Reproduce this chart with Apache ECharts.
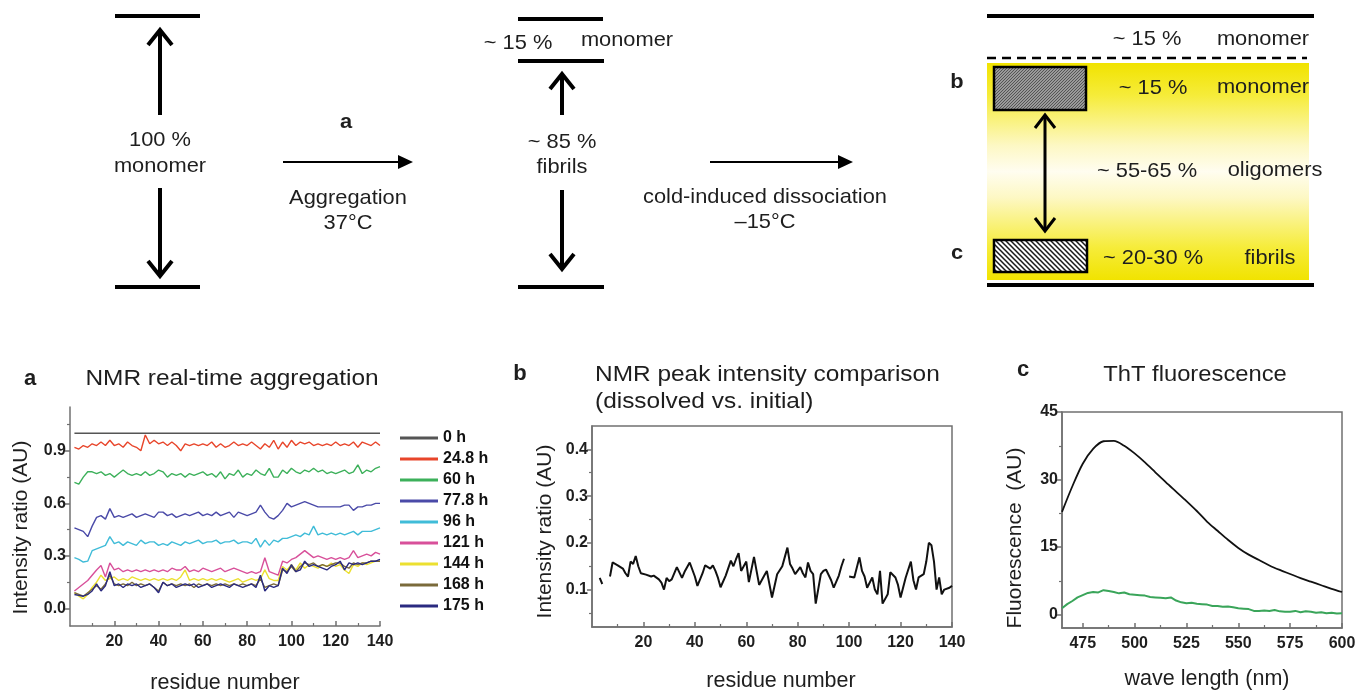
<!DOCTYPE html>
<html><head><meta charset="utf-8">
<script src="https://cdn.jsdelivr.net/npm/echarts@6/dist/echarts.min.js"></script>
<style>html,body{margin:0;padding:0;background:#fff}#c{width:1358px;height:690px}</style>
</head><body><div id="c"></div>
<script>
// ---------- Panel a: NMR real-time aggregation ----------
const residues = [2,4,6,8,10,12,14,16,18,20,22,24,26,28,30,32,34,36,38,40,42,44,46,48,50,52,54,56,58,60,62,64,66,68,70,72,74,76,78,80,82,84,86,88,90,92,94,96,98,100,102,104,106,108,110,112,114,116,118,120,122,124,126,128,130,132,134,136,138,140];
const h0Res = [2,140];
const h0Val = [1.0,1.0];
const h24_8 = [0.92,0.91,0.93,0.92,0.94,0.93,0.95,0.93,0.96,0.93,
 0.94,0.92,0.95,0.93,0.92,0.90,0.99,0.94,0.96,0.94,
 0.95,0.93,0.95,0.93,0.90,0.94,0.93,0.94,0.93,0.94,
 0.93,0.95,0.92,0.94,0.92,0.93,0.95,0.93,0.94,0.93,
 0.95,0.93,0.91,0.94,0.92,0.96,0.91,0.95,0.92,0.96,
 0.93,0.95,0.94,0.95,0.93,0.94,0.93,0.94,0.93,0.95,
 0.93,0.94,0.93,0.95,0.92,0.95,0.94,0.93,0.95,0.93];
const h60 = [0.72,0.71,0.75,0.78,0.78,0.77,0.78,0.76,0.77,0.75,
 0.77,0.79,0.77,0.76,0.77,0.76,0.78,0.76,0.77,0.79,
 0.78,0.75,0.77,0.76,0.77,0.75,0.77,0.76,0.77,0.78,
 0.76,0.77,0.75,0.78,0.74,0.77,0.76,0.79,0.75,0.77,
 0.76,0.79,0.77,0.76,0.80,0.75,0.75,0.79,0.77,0.80,
 0.78,0.77,0.79,0.78,0.80,0.78,0.79,0.77,0.78,0.77,
 0.78,0.79,0.77,0.78,0.82,0.77,0.79,0.78,0.80,0.81];
const h77_8 = [0.46,0.45,0.44,0.41,0.47,0.52,0.53,0.51,0.57,0.52,
 0.53,0.52,0.53,0.54,0.52,0.53,0.54,0.53,0.52,0.55,
 0.55,0.53,0.54,0.52,0.53,0.54,0.53,0.54,0.55,0.53,
 0.54,0.53,0.55,0.53,0.54,0.55,0.52,0.55,0.54,0.53,
 0.54,0.55,0.59,0.55,0.52,0.51,0.53,0.56,0.60,0.58,
 0.59,0.60,0.61,0.60,0.59,0.58,0.58,0.58,0.58,0.58,
 0.58,0.59,0.59,0.56,0.58,0.58,0.59,0.59,0.60,0.60];
const h96 = [0.29,0.28,0.265,0.27,0.33,0.34,0.35,0.36,0.41,0.37,
 0.38,0.36,0.38,0.37,0.36,0.39,0.37,0.38,0.38,0.36,
 0.37,0.36,0.38,0.37,0.36,0.38,0.37,0.38,0.39,0.37,
 0.38,0.38,0.39,0.37,0.38,0.38,0.39,0.37,0.38,0.38,
 0.37,0.40,0.35,0.39,0.36,0.39,0.38,0.40,0.40,0.41,
 0.42,0.41,0.43,0.42,0.47,0.42,0.43,0.42,0.43,0.42,
 0.43,0.42,0.43,0.44,0.42,0.44,0.44,0.44,0.45,0.46];
const h121 = [0.10,0.12,0.14,0.16,0.19,0.22,0.245,0.18,0.26,0.22,
 0.23,0.21,0.22,0.21,0.22,0.21,0.22,0.21,0.22,0.21,
 0.22,0.21,0.23,0.22,0.22,0.24,0.21,0.22,0.21,0.23,
 0.22,0.21,0.22,0.23,0.21,0.22,0.23,0.22,0.21,0.20,
 0.21,0.20,0.21,0.29,0.21,0.20,0.19,0.27,0.26,0.28,
 0.29,0.31,0.33,0.31,0.29,0.30,0.29,0.28,0.29,0.28,
 0.29,0.28,0.29,0.33,0.29,0.30,0.31,0.30,0.32,0.31];
const h144 = [0.09,0.07,0.055,0.08,0.12,0.15,0.19,0.16,0.17,0.18,
 0.16,0.17,0.16,0.18,0.17,0.16,0.17,0.16,0.17,0.16,
 0.17,0.16,0.17,0.16,0.18,0.22,0.16,0.17,0.16,0.17,
 0.16,0.17,0.16,0.17,0.16,0.15,0.16,0.17,0.15,0.16,
 0.17,0.16,0.17,0.22,0.17,0.16,0.16,0.24,0.22,0.25,
 0.22,0.26,0.23,0.25,0.24,0.23,0.25,0.24,0.26,0.24,
 0.25,0.22,0.20,0.25,0.24,0.26,0.25,0.26,0.27,0.27];
const h168 = [0.09,0.08,0.07,0.09,0.11,0.13,0.11,0.14,0.19,0.14,
 0.13,0.14,0.13,0.15,0.13,0.14,0.13,0.14,0.12,0.10,
 0.15,0.13,0.14,0.13,0.14,0.13,0.14,0.12,0.14,0.13,
 0.14,0.13,0.14,0.13,0.14,0.13,0.14,0.13,0.14,0.13,
 0.14,0.13,0.17,0.12,0.13,0.14,0.13,0.22,0.21,0.24,
 0.21,0.24,0.26,0.25,0.26,0.24,0.25,0.24,0.25,0.26,
 0.26,0.24,0.23,0.26,0.25,0.26,0.26,0.27,0.27,0.27];
const h175 = [0.08,0.075,0.07,0.08,0.10,0.14,0.10,0.13,0.21,0.13,
 0.14,0.12,0.14,0.13,0.14,0.12,0.13,0.14,0.12,0.09,
 0.15,0.13,0.14,0.12,0.13,0.14,0.13,0.14,0.12,0.13,
 0.14,0.12,0.13,0.14,0.13,0.12,0.14,0.13,0.12,0.13,
 0.14,0.12,0.19,0.10,0.13,0.12,0.13,0.23,0.20,0.25,
 0.21,0.22,0.27,0.24,0.25,0.24,0.23,0.22,0.24,0.25,
 0.27,0.22,0.26,0.25,0.26,0.25,0.26,0.27,0.27,0.28];
const aNames = ['0 h','24.8 h','60 h','77.8 h','96 h','121 h','144 h','168 h','175 h'];
const aColors = ['#555555','#e8452a','#3cb05a','#4a4aa8','#40bcd8','#d8509a','#ece030','#7a6a3a','#2a2a80'];
const aYLabels = [0,0.3,0.6,0.9];
const aYMinor = [0.15,0.45,0.75,1.05];
const aXLabels = [20,40,60,80,100,120,140];
const aXMinor = [10,30,50,70,90,110,130];

// ---------- Panel b: NMR peak intensity comparison ----------
const bRes = [3,4,5,7,8,10,12,13,14,15,16,17,18,19,21,23,24,26,27,28,29,30,31,33,35,36,38,40,41,43,44,46,47,48,49,50,52,54,55,56,57,58,60,61,63,64,65,67,68,70,72,74,75,76,77,78,79,81,82,83,84,85,86,87,89,90,91,93,94,96,97,98,99,100,102,104,105,106,107,109,110,111,112,113,115,116,118,119,120,122,124,125,126,127,129,130,131,132,133,134,135,136,137,139,140];
const bVal = [0.125,0.112,null,0.128,0.158,0.152,0.145,0.135,0.128,0.16,
 0.155,0.172,0.15,0.135,0.132,0.128,0.13,0.122,0.115,0.1,
 0.125,0.118,0.122,0.148,0.125,0.138,0.158,0.128,0.108,0.135,
 0.152,0.145,0.152,0.14,0.125,0.105,0.13,0.162,0.15,0.165,
 0.178,0.14,0.16,0.116,0.17,0.14,0.11,0.13,0.14,0.083,
 0.133,0.15,0.17,0.19,0.155,0.145,0.133,0.148,0.135,0.126,
 0.158,0.14,0.133,0.07,0.133,0.14,0.143,0.12,0.104,0.13,
 0.15,0.166,null,0.128,0.126,0.169,0.14,0.128,0.104,0.126,
 0.1,0.09,0.14,0.07,0.09,0.137,0.126,0.11,0.083,0.126,
 0.16,0.12,0.1,0.126,0.133,0.16,0.2,0.195,0.16,0.1,
 0.126,0.09,0.1,0.104,0.108];
const bYLabels = [0.1,0.2,0.3,0.4];
const bYMinor = [0.05,0.15,0.25,0.35];
const bXLabels = [20,40,60,80,100,120,140];
const bXMinor = [10,30,50,70,90,110,130];

// ---------- Panel c: ThT fluorescence ----------
const cWave = [465,470,475,480,485,490,495,500,505,510,515,520,525,530,535,540,545,550,555,560,565,570,575,580,585,590,595,600];
const cFibril = [22.8,28.5,33.5,36.8,38.5,38.6,37.5,35.8,33.8,31.6,29.4,27.3,25.2,23.0,20.6,18.6,16.6,14.8,13.3,12.1,10.9,9.9,9.0,8.1,7.3,6.5,5.7,5.0];
const cWave2 = [465,467.5,470,472.5,475,477.5,480,482.5,485,487.5,490,492.5,495,497.5,500,502.5,505,507.5,510,512.5,515,517.5,520,522.5,525,527.5,530,532.5,535,537.5,540,542.5,545,547.5,550,552.5,555,557.5,560,562.5,565,567.5,570,572.5,575,577.5,580,582.5,585,587.5,590,592.5,595,597.5,600];
const cDissolved = [1.4,2.3,3.0,3.8,4.3,4.8,5.0,4.9,5.4,5.2,
 5.0,4.7,4.9,4.5,4.4,4.3,4.2,3.9,3.8,3.7,
 3.6,3.8,3.1,2.7,2.5,2.6,2.4,2.3,2.2,1.9,
 1.9,1.7,1.8,1.6,1.4,1.3,1.2,0.8,0.8,0.9,
 0.8,1.0,0.7,0.6,0.6,0.8,0.5,0.7,0.6,0.4,
 0.5,0.3,0.4,0.2,0.3];
const cYLabels = [0,15,30,45];
const cYMinor = [7.5,22.5,37.5];
const cXLabels = [475,500,525,550,575,600];
const cXMinor = [487.5,512.5,537.5,562.5,587.5];

// ---------- helpers ----------
const FONT = "'Liberation Sans', Arial, Helvetica, sans-serif";
const AX = '#707070';
const TXT = '#1e1e1e';
function pairs(xs, ys){ return xs.map((x,i)=>[x, ys[i]]); }
function txt(x,y,s,size,o){ o=o||{}; return {type:'text', x:x, y:y, z:20, scaleX:o.sx||1,
  style:{text:s, fontSize:size, fontFamily:FONT, fontWeight:o.bold?'bold':'normal', fill:o.color||TXT,
    align:o.align||'center', verticalAlign:'middle', textAlign:o.align||'center', textVerticalAlign:'middle'}}; }
function st(x,y,s,o){ o=o||{}; o.sx=o.sx||1.04; return txt(x,y,s,21,o); }   // schematic text
function tt(x,y,s,o){ o=o||{}; o.sx=o.sx||1.11; return txt(x,y,s,22,o); }   // panel titles
function ln(x1,y1,x2,y2,w,dash){ return {type:'line', z:15, shape:{x1:x1,y1:y1,x2:x2,y2:y2}, style:{stroke:'#000', lineWidth:w, lineDash:dash||null}}; }
function chev(pts,w){ return {type:'polyline', z:15, shape:{points:pts}, style:{stroke:'#000', lineWidth:w, fill:null, lineJoin:'miter'}}; }
function tri(pts){ return {type:'polygon', z:15, shape:{points:pts}, style:{fill:'#000'}}; }

function dotPattern(){ const c=document.createElement('canvas'); c.width=3; c.height=3; const g=c.getContext('2d');
  g.fillStyle='#9a9a9a'; g.fillRect(0,0,3,3); g.fillStyle='#555'; g.fillRect(0,0,1,1); g.fillRect(1,2,1,1); g.fillRect(2,1,1,1); return c; }
function hatchPattern(){ const c=document.createElement('canvas'); c.width=5; c.height=5; const g=c.getContext('2d');
  g.fillStyle='#ffffff'; g.fillRect(0,0,5,5); g.strokeStyle='#1a1a1a'; g.lineWidth=1.5; g.beginPath();
  g.moveTo(-1,-1); g.lineTo(6,6); g.moveTo(-1,4); g.lineTo(1,6); g.moveTo(4,-1); g.lineTo(6,1); g.stroke(); return c; }

// ---------- axes ----------
function mainX(grid,min,max,labels,fmt){ return {gridIndex:grid, type:'value', min:min, max:max, position:'bottom',
  axisLine:{show:true,onZero:false,lineStyle:{color:AX,width:1.5}},
  axisTick:{show:true,inside:true,length:5,customValues:labels,lineStyle:{color:AX,width:1.5}},
  axisLabel:{customValues:labels, formatter:fmt||(v=>String(v)), margin:8, color:TXT, fontWeight:'bold', fontSize:16, fontFamily:FONT},
  splitLine:{show:false}}; }
function minorX(grid,min,max,vals){ return {gridIndex:grid, type:'value', min:min, max:max, position:'bottom',
  axisLine:{show:false,onZero:false}, axisTick:{show:true,inside:true,length:3,customValues:vals,lineStyle:{color:AX,width:1.2}},
  axisLabel:{show:false}, splitLine:{show:false}}; }
function mainY(grid,min,max,labels,fmt){ return {gridIndex:grid, type:'value', min:min, max:max, position:'left',
  axisLine:{show:true,onZero:false,lineStyle:{color:AX,width:1.5}},
  axisTick:{show:true,inside:false,length:5,customValues:labels,lineStyle:{color:AX,width:1.5}},
  axisLabel:{customValues:labels, formatter:fmt||(v=>String(v)), margin:4, color:TXT, fontWeight:'bold', fontSize:16, fontFamily:FONT},
  splitLine:{show:false}}; }
function minorY(grid,min,max,vals){ return {gridIndex:grid, type:'value', min:min, max:max, position:'left',
  axisLine:{show:false,onZero:false}, axisTick:{show:true,inside:false,length:3,customValues:vals,lineStyle:{color:AX,width:1.2}},
  axisLabel:{show:false}, splitLine:{show:false}}; }
function named(ax,name,gap,rot,size,pad){ ax.name=name; ax.nameLocation='middle'; ax.nameGap=gap; if(rot) ax.nameRotate=rot;
  ax.nameTextStyle={fontSize:size||21, color:TXT, fontFamily:FONT, padding:pad||0}; return ax; }

const xAxes = [
  named(mainX(0,0,140,aXLabels),'residue number',46,0,21.5), minorX(0,0,140,aXMinor),
  named(mainX(1,0,140,bXLabels),'residue number',43,0,21.5,[0,0,0,18]), minorX(1,0,140,bXMinor),
  named(mainX(2,465,600,cXLabels),'wave length (nm)',40,0,21.5,[0,0,0,10]), minorX(2,465,600,cXMinor)
];
const yAxes = [
  named(mainY(0,-0.1,1.15,aYLabels,v=>v.toFixed(1)),'Intensity ratio (AU)',38,90,21,[0,22,0,0]), minorY(0,-0.1,1.15,aYMinor),
  named(mainY(1,0.02,0.45,bYLabels,v=>v.toFixed(1)),'Intensity ratio (AU)',36,90,21,[0,10,0,0]), minorY(1,0.02,0.45,bYMinor),
  named(mainY(2,-3,45,cYLabels),'Fluorescence  (AU)',36,90,21,[0,36,0,0]), minorY(2,-3,45,cYMinor)
];

// ---------- series ----------
const aData = [pairs(h0Res,h0Val), pairs(residues,h24_8), pairs(residues,h60), pairs(residues,h77_8), pairs(residues,h96),
  pairs(residues,h121), pairs(residues,h144), pairs(residues,h168), pairs(residues,h175)];
const series = aData.map((d,i)=>({name:aNames[i], type:'line', xAxisIndex:0, yAxisIndex:0, data:d, symbol:'none',
  lineStyle:{color:aColors[i], width:1.4}, itemStyle:{color:aColors[i]}, z:2+i}));
series.push({name:'dissolved vs. initial', type:'line', xAxisIndex:2, yAxisIndex:2, data:pairs(bRes,bVal), symbol:'none',
  connectNulls:false, lineStyle:{color:'#111',width:2}, itemStyle:{color:'#111'}});
series.push({name:'fibrils', type:'line', xAxisIndex:4, yAxisIndex:4, data:pairs(cWave,cFibril), symbol:'none', smooth:0.3,
  lineStyle:{color:'#111',width:1.8}, itemStyle:{color:'#111'}});
series.push({name:'dissolved', type:'line', xAxisIndex:4, yAxisIndex:4, data:pairs(cWave2,cDissolved), symbol:'none',
  lineStyle:{color:'#3aa55a',width:2}, itemStyle:{color:'#3aa55a'}});

// ---------- schematic (top) ----------
const dot = dotPattern(), hatch = hatchPattern();
const schematic = [
  {type:'rect', z:5, shape:{x:987,y:63,width:322,height:217}, style:{fill:new echarts.graphic.LinearGradient(0,0,0,1,[
    {offset:0,color:'#f1e300'},{offset:0.15,color:'#f6ec3a'},{offset:0.38,color:'#fdf8c4'},{offset:0.5,color:'#fffdf0'},
    {offset:0.62,color:'#fdf8c4'},{offset:0.85,color:'#f6ec3a'},{offset:1,color:'#f1e300'}])}},
  // left column
  ln(115,16,200,16,4), ln(160,31,160,115,4), chev([[148,45],[160,30],[172,45]],4),
  st(160,140,'100 %'), st(160,166,'monomer'),
  ln(160,188,160,275,4), chev([[148,261],[160,276],[172,261]],4), ln(115,287,200,287,4),
  st(346,122,'a',{bold:true}),
  ln(283,162,400,162,2), tri([[398,155],[413,162],[398,169]]),
  st(348,198,'Aggregation'), st(348,223,'37\u00B0C'),
  // middle column
  ln(518,19,603,19,4), st(518,43,'~ 15 %'), st(627,40,'monomer'), ln(518,61,604,61,4),
  ln(562,75,562,115,4), chev([[550,89],[562,74],[574,89]],4),
  st(562,142,'~ 85 %'), st(562,167,'fibrils'),
  ln(562,190,562,267,4), chev([[550,254],[562,269],[574,254]],4), ln(518,287,604,287,4),
  ln(710,162,840,162,2), tri([[838,155],[853,162],[838,169]]),
  st(765,197,'cold-induced dissociation'), st(765,222,'\u201315\u00B0C'),
  // right column
  ln(987,16,1314,16,4), st(1147,39,'~ 15 %'), st(1263,39,'monomer'),
  ln(987,58,1307,58,2.5,[9,6]),
  st(957,82,'b',{bold:true}), st(957,253,'c',{bold:true}),
  {type:'rect', z:12, shape:{x:994,y:67,width:92,height:43}, style:{fill:{image:dot, repeat:'repeat'}, stroke:'#000', lineWidth:2.5}},
  st(1153,88,'~ 15 %'), st(1263,87,'monomer'),
  ln(1045,116,1045,230,3), chev([[1035,128],[1045,115],[1055,128]],3), chev([[1035,218],[1045,231],[1055,218]],3),
  st(1147,171,'~ 55-65 %'), st(1275,170,'oligomers'),
  {type:'rect', z:12, shape:{x:994,y:240,width:93,height:32}, style:{fill:{image:hatch, repeat:'repeat'}, stroke:'#000', lineWidth:2.5}},
  st(1153,258,'~ 20-30 %'), st(1270,258,'fibrils'),
  ln(987,285,1314,285,4),
  // panel titles (bottom)
  tt(30,379,'a',{bold:true,sx:1}), tt(232,379,'NMR real-time aggregation'),
  tt(520,374,'b',{bold:true,sx:1}), tt(595,375,'NMR peak intensity comparison',{align:'left'}),
  tt(595,402,'(dissolved vs. initial)',{align:'left'}),
  tt(1023,370,'c',{bold:true,sx:1}), tt(1195,375,'ThT fluorescence',{sx:1.08})
];

const chart = echarts.init(document.getElementById('c'), null, {renderer:'canvas'});
chart.setOption({
  animation:false,
  backgroundColor:'#ffffff',
  textStyle:{fontFamily:FONT},
  grid:[
    {left:70, top:407, width:310, height:219, containLabel:false, outerBoundsMode:'none'},
    {left:592, top:426, width:360, height:201, containLabel:false, outerBoundsMode:'none', show:true, borderColor:AX, borderWidth:1.5, backgroundColor:'transparent'},
    {left:1062, top:412, width:280, height:216, containLabel:false, outerBoundsMode:'none', show:true, borderColor:AX, borderWidth:1.5, backgroundColor:'transparent'}
  ],
  legend:{orient:'vertical', left:400, top:430, padding:0, icon:'rect', itemWidth:38, itemHeight:3, itemGap:5, data:aNames,
    textStyle:{fontSize:16, fontWeight:'bold', color:'#111', fontFamily:FONT, lineHeight:16}},
  xAxis:xAxes, yAxis:yAxes, series:series, graphic:schematic
});
</script></body></html>
